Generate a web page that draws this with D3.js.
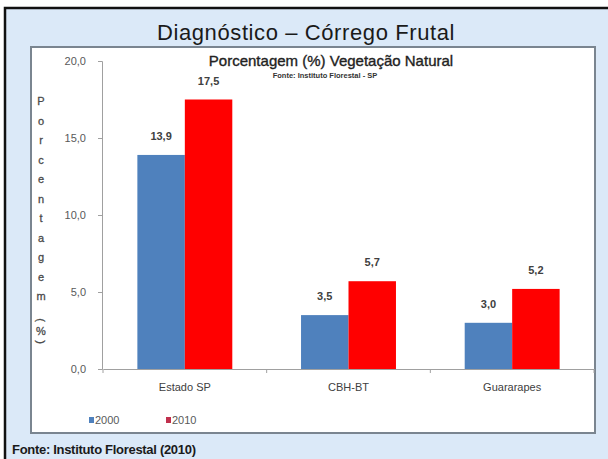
<!DOCTYPE html>
<html lang="pt">

<head>
    <meta charset="UTF-8">
    <title>Diagnóstico – Córrego Frutal</title>
    <script src="https://d3js.org/d3.v7.min.js" charset="utf-8"></script>
    <style>
        body { margin: 0; background: #fff; }
        text { font-family: "Liberation Sans", Arial, sans-serif; }
    </style>
</head>

<body>
    <div id="chart"></div>

    <script>
        // data
        const categories = ["Estado SP", "CBH-BT", "Guararapes"];
        const values2000 = [13.9, 3.5, 3.0];
        const values2010 = [17.5, 5.7, 5.2];
        const seriesNames = ["2000", "2010"];
        const seriesColors = ["#4f81bd", "#ff0000"];
        const legendColors = ["#4f81bd", "#c0304d"];
        const yTicks = [0, 5, 10, 15, 20];
        const yLabelLetters = ["P", "o", "r", "c", "e", "n", "t", "a", "g", "e", "m"];

        const W = 608, H = 459;
        const fmt = v => d3.format(".1f")(v).replace(".", ",");

        const svg = d3.select("#chart").append("svg")
            .attr("width", W)
            .attr("height", H);

        // outer light blue frame with black top/left border
        svg.append("rect")
            .attr("x", 5).attr("y", 8)
            .attr("width", W - 5).attr("height", H - 8)
            .attr("fill", "#dbe9f8");
        svg.append("path")
            .attr("d", `M5,${H} V8 H${W}`)
            .attr("fill", "none")
            .attr("stroke", "#111")
            .attr("stroke-width", 2.5);

        // main title
        svg.append("text")
            .attr("x", 306).attr("y", 40)
            .attr("text-anchor", "middle")
            .attr("font-size", 22)
            .attr("letter-spacing", 0.6)
            .attr("fill", "#1a1a1a")
            .text("Diagnóstico – Córrego Frutal");

        // inner white chart panel
        svg.append("rect")
            .attr("x", 31).attr("y", 47)
            .attr("width", 564).attr("height", 386)
            .attr("fill", "#fff")
            .attr("stroke", "#7a8590")
            .attr("stroke-width", 2);

        // subtitle
        svg.append("text")
            .attr("x", 331).attr("y", 66)
            .attr("text-anchor", "middle")
            .attr("font-size", 15)
            .attr("fill", "#222")
            .attr("stroke", "#222")
            .attr("stroke-width", 0.35)
            .text("Porcentagem (%) Vegetação Natural");
        svg.append("text")
            .attr("x", 325).attr("y", 78)
            .attr("text-anchor", "middle")
            .attr("font-size", 7.5)
            .attr("font-weight", "bold")
            .attr("fill", "#333")
            .text("Fonte: Instituto Florestal - SP");

        // scales
        const x = d3.scaleBand()
            .domain(categories)
            .range([103, 594])
            .paddingInner(0.42)
            .paddingOuter(0.21);

        const xSub = d3.scaleBand()
            .domain(seriesNames)
            .range([0, x.bandwidth()]);

        const y = d3.scaleLinear()
            .domain([0, 20])
            .range([369, 61]);

        // y axis
        const yAxis = svg.append("g")
            .attr("transform", "translate(102,0)")
            .call(d3.axisLeft(y).tickValues(yTicks).tickFormat(fmt).tickSize(4).tickPadding(12));
        yAxis.select(".domain").attr("stroke", "#a0a0a0");
        yAxis.selectAll(".tick line").attr("stroke", "#a0a0a0");
        yAxis.selectAll(".tick text")
            .attr("font-size", 11)
            .attr("fill", "#595959")
            .style("font-family", "'Liberation Sans', Arial, sans-serif");

        // bars
        const groups = svg.selectAll("g.cat")
            .data(categories)
            .enter()
            .append("g")
            .attr("class", "cat")
            .attr("transform", d => `translate(${x(d)},0)`);

        const rows = categories.map((c, i) => [values2000[i], values2010[i]]);

        groups.selectAll("rect")
            .data((d, i) => rows[i].map((v, j) => ({ name: seriesNames[j], value: v, color: seriesColors[j] })))
            .enter()
            .append("rect")
            .attr("x", d => xSub(d.name))
            .attr("y", d => y(d.value))
            .attr("width", xSub.bandwidth())
            .attr("height", d => y(0) - y(d.value))
            .attr("fill", d => d.color);

        groups.selectAll("text.val")
            .data((d, i) => rows[i].map((v, j) => ({ name: seriesNames[j], value: v })))
            .enter()
            .append("text")
            .attr("class", "val")
            .attr("x", d => xSub(d.name) + xSub.bandwidth() / 2)
            .attr("y", d => y(d.value) - 15)
            .attr("text-anchor", "middle")
            .attr("font-size", 11)
            .attr("font-weight", "bold")
            .attr("fill", "#404040")
            .text(d => fmt(d.value));

        // x axis (category axis with ticks between groups)
        const xAxis = svg.append("g")
            .attr("transform", `translate(0,${y(0)})`)
            .call(d3.axisBottom(x).tickSize(0).tickPadding(14));
        xAxis.select(".domain").attr("stroke", "#a0a0a0");
        xAxis.selectAll(".tick text")
            .attr("font-size", 11)
            .attr("fill", "#404040")
            .style("font-family", "'Liberation Sans', Arial, sans-serif");
        const step = x.step();
        const bounds = d3.range(categories.length + 1).map(i => x.range()[0] + i * step);
        xAxis.selectAll("line.sep")
            .data(bounds)
            .enter()
            .append("line")
            .attr("class", "sep")
            .attr("x1", d => d).attr("x2", d => d)
            .attr("y1", 0).attr("y2", 4)
            .attr("stroke", "#a0a0a0");

        // stacked y axis title
        const yTitle = svg.append("g")
            .attr("fill", "#4a4a4a")
            .attr("stroke", "#4a4a4a")
            .attr("stroke-width", 0.3);
        yTitle.selectAll("text.letter")
            .data(yLabelLetters)
            .enter()
            .append("text")
            .attr("class", "letter")
            .attr("x", 41)
            .attr("y", (d, i) => 105 + i * 19.5)
            .attr("text-anchor", "middle")
            .attr("font-size", 11)
            .text(d => d);
        yTitle.append("text")
            .attr("transform", "translate(41,320) rotate(90)")
            .attr("text-anchor", "middle")
            .attr("dy", "0.35em")
            .attr("font-size", 11)
            .text("(");
        yTitle.append("text")
            .attr("x", 41).attr("y", 335)
            .attr("text-anchor", "middle")
            .attr("font-size", 11)
            .text("%");
        yTitle.append("text")
            .attr("transform", "translate(41,342) rotate(90)")
            .attr("text-anchor", "middle")
            .attr("dy", "0.35em")
            .attr("font-size", 11)
            .text(")");

        // legend
        const legend = svg.selectAll("g.legend")
            .data(seriesNames)
            .enter()
            .append("g")
            .attr("class", "legend")
            .attr("transform", (d, i) => `translate(${89 + i * 77},420)`);
        legend.append("rect")
            .attr("x", 0).attr("y", -3)
            .attr("width", 5).attr("height", 6)
            .attr("fill", (d, i) => legendColors[i]);
        legend.append("text")
            .attr("x", 6).attr("y", 4)
            .attr("font-size", 11)
            .attr("fill", "#595959")
            .text(d => d);

        // footer source
        svg.append("text")
            .attr("x", 12).attr("y", 454)
            .attr("font-size", 13)
            .attr("font-weight", "bold")
            .attr("letter-spacing", -0.3)
            .attr("fill", "#1a1a1a")
            .text("Fonte: Instituto Florestal (2010)");
    </script>

</body>

</html>
